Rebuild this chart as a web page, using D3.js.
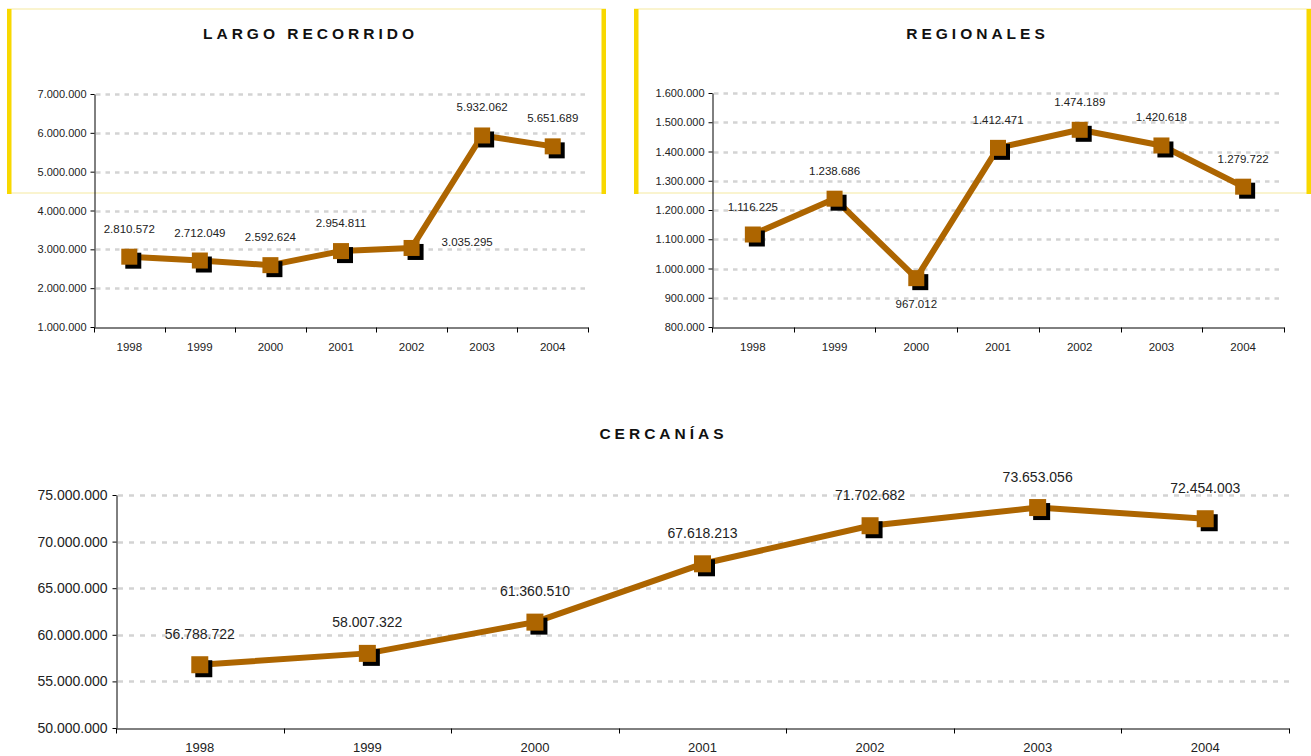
<!DOCTYPE html>
<html>
<head>
<meta charset="utf-8">
<script src="https://cdn.jsdelivr.net/npm/d3@7"></script>
<style>
  html, body { margin: 0; padding: 0; background: #fff; }
  svg { display: block; font-family: "Liberation Sans", Arial, sans-serif; }
</style>
</head>
<body>
<script>
// data
const years = ["1998", "1999", "2000", "2001", "2002", "2003", "2004"];
const largoRecorrido = [2810572, 2712049, 2592624, 2954811, 3035295, 5932062, 5651689];
const regionales = [1116225, 1238686, 967012, 1412471, 1474189, 1420618, 1279722];
const cercanias = [56788722, 58007322, 61360510, 67618213, 71702682, 73653056, 72454003];

const largoTicks = [1000000, 2000000, 3000000, 4000000, 5000000, 6000000, 7000000];
const regionalesTicks = [800000, 900000, 1000000, 1100000, 1200000, 1300000, 1400000, 1500000, 1600000];
const cercaniasTicks = [50000000, 55000000, 60000000, 65000000, 70000000, 75000000];

// where excel put each data label
const largoLabelPos = ["above", "above", "above", "above", "right", "above", "above"];
const regionalesLabelPos = ["above", "above", "below", "above", "above", "above", "above"];
const cercaniasLabelPos = ["above", "above", "above", "above", "above", "above", "above"];

const width = 1311, height = 756;
const brown = "#ad6500";
const locale = d3.formatLocale({decimal: ",", thousands: ".", grouping: [3], currency: ["", ""]});
const fmt = locale.format(",d");

const svg = d3.select("body").append("svg")
	.attr("width", width)
	.attr("height", height);

// yellow frames behind the two top charts
function frame(x0, x1, y0, y1) {
	let g = svg.append("g");
	g.append("line").attr("x1", x0).attr("x2", x1).attr("y1", y0).attr("y2", y0)
		.attr("stroke", "#f6e9a0").attr("stroke-width", 1.2);
	g.append("line").attr("x1", x0).attr("x2", x1).attr("y1", y1).attr("y2", y1)
		.attr("stroke", "#f6e9a0").attr("stroke-width", 1.2);
	g.append("rect").attr("x", x0).attr("y", y0).attr("width", 4.5).attr("height", y1 - y0 + 1).attr("fill", "#f8d800");
	g.append("rect").attr("x", x1 - 4.5).attr("y", y0).attr("width", 4.5).attr("height", y1 - y0 + 1).attr("fill", "#f8d800");
}
frame(7, 606, 9, 193);
frame(634, 1311, 9, 193);

function panel(cfg) {
	let x = d3.scaleBand().domain(years).range([cfg.left, cfg.right]);
	let y = d3.scaleLinear().domain(d3.extent(cfg.ticks)).range([cfg.bottom, cfg.top]);
	let g = svg.append("g");

	// letter-spacing also trails the last glyph, so nudge right by half of it
	g.append("text")
		.attr("x", cfg.titleX + 2).attr("y", cfg.titleY)
		.attr("text-anchor", "middle").attr("dominant-baseline", "central")
		.style("font-size", "15.5px").style("font-weight", "bold")
		.style("letter-spacing", "4px")
		.attr("fill", "#111")
		.text(cfg.title);

	// grid
	g.append("g").selectAll("line")
		.data(cfg.ticks.slice(1))
		.enter().append("line")
		.attr("x1", cfg.left + 2).attr("x2", cfg.right)
		.attr("y1", d => Math.round(y(d)) + 0.5).attr("y2", d => Math.round(y(d)) + 0.5)
		.attr("stroke", "#d3d3d3").attr("stroke-width", 2.5)
		.attr("stroke-dasharray", cfg.dash);

	// y axis
	let ya = g.append("g")
		.attr("transform", `translate(${cfg.left + 0.5},0)`)
		.call(d3.axisLeft(y).tickValues(cfg.ticks).tickFormat(fmt).tickSize(4).tickPadding(cfg.yPad).tickSizeOuter(0));
	ya.selectAll("text").style("font-size", cfg.yFont + "px").attr("fill", "#222");
	ya.select(".domain").attr("stroke", "#000");
	ya.selectAll(".tick line").attr("stroke", "#000");

	// x axis: labels in the middle of each band, ticks on the boundaries
	let xa = g.append("g")
		.attr("transform", `translate(0,${cfg.bottom + 0.5})`)
		.call(d3.axisBottom(x).tickSize(0).tickPadding(cfg.xPad).tickSizeOuter(0));
	xa.selectAll("text").style("font-size", cfg.xFont + "px").attr("fill", "#222");
	xa.select(".domain").attr("stroke", "#000");
	xa.append("g").selectAll("line")
		.data(d3.range(years.length + 1))
		.enter().append("line")
		.attr("x1", i => Math.round(cfg.left + i * x.step()) + 0.5)
		.attr("x2", i => Math.round(cfg.left + i * x.step()) + 0.5)
		.attr("y1", 0).attr("y2", 5)
		.attr("stroke", "#000");

	let cx = d => x(d) + x.bandwidth() / 2;
	let pts = years.map((yr, i) => ({yr: yr, v: cfg.values[i], pos: cfg.labelPos[i]}));

	g.append("path")
		.datum(pts)
		.attr("fill", "none")
		.attr("stroke", brown)
		.attr("stroke-width", 6)
		.attr("stroke-linejoin", "round")
		.attr("d", d3.line().x(d => cx(d.yr)).y(d => y(d.v)));

	let m = cfg.marker;
	g.append("g").selectAll("rect")
		.data(pts)
		.enter().append("rect")
		.attr("x", d => cx(d.yr) - m / 2 + 4).attr("y", d => y(d.v) - m / 2 + 4)
		.attr("width", m).attr("height", m)
		.attr("fill", "#000");
	g.append("g").selectAll("rect")
		.data(pts)
		.enter().append("rect")
		.attr("x", d => cx(d.yr) - m / 2).attr("y", d => y(d.v) - m / 2)
		.attr("width", m).attr("height", m)
		.attr("fill", brown);

	g.append("g").selectAll("text")
		.data(pts)
		.enter().append("text")
		.attr("x", d => d.pos === "right" ? cx(d.yr) + cfg.labelGap + 2 : cx(d.yr))
		.attr("y", d => d.pos === "below" ? y(d.v) + cfg.labelGap - 2 : d.pos === "right" ? y(d.v) - 6 : y(d.v) - cfg.labelGap)
		.attr("text-anchor", d => d.pos === "right" ? "start" : "middle")
		.attr("dominant-baseline", "central")
		.style("font-size", cfg.labelFont + "px")
		.attr("fill", "#222")
		.text(d => fmt(d.v));
}

panel({
	title: "LARGO RECORRIDO", titleX: 308.5, titleY: 33,
	values: largoRecorrido, ticks: largoTicks, labelPos: largoLabelPos,
	left: 94, right: 588, top: 94, bottom: 327,
	yFont: 11, xFont: 11.5, labelFont: 11.5, yPad: 4, xPad: 15,
	labelGap: 28, marker: 16, dash: "4.5,5"
});

panel({
	title: "REGIONALES", titleX: 975.5, titleY: 33,
	values: regionales, ticks: regionalesTicks, labelPos: regionalesLabelPos,
	left: 712, right: 1284, top: 93, bottom: 327,
	yFont: 11, xFont: 11.5, labelFont: 11.5, yPad: 4, xPad: 15,
	labelGap: 28, marker: 16, dash: "4.5,5"
});

panel({
	title: "CERCANÍAS", titleX: 661.5, titleY: 433,
	values: cercanias, ticks: cercaniasTicks, labelPos: cercaniasLabelPos,
	left: 116, right: 1289, top: 495, bottom: 728,
	yFont: 14, xFont: 13, labelFont: 14, yPad: 5, xPad: 14,
	labelGap: 31, marker: 17, dash: "5,6"
});
</script>
</body>
</html>
